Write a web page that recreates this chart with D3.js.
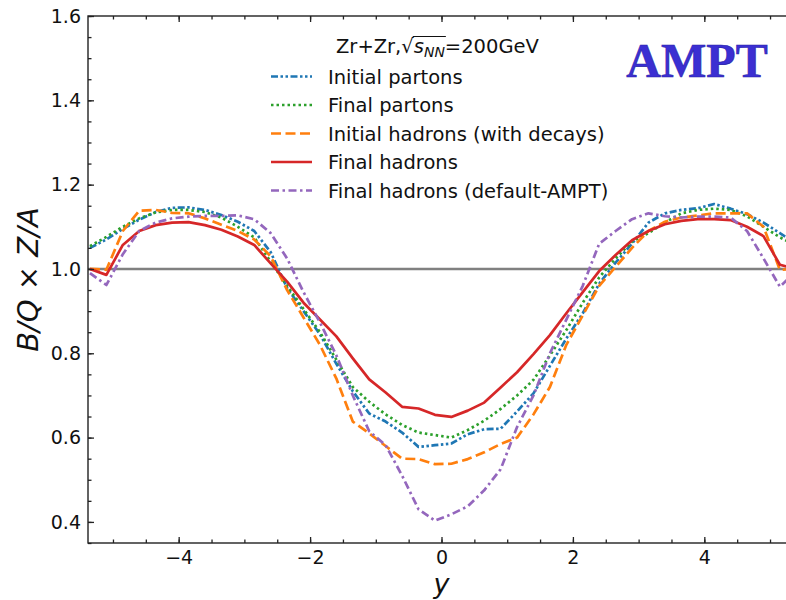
<!DOCTYPE html>
<html>
<head>
<meta charset="utf-8">
<script src="https://cdn.jsdelivr.net/npm/d3@7/dist/d3.min.js"></script>
<style>
  html, body { margin: 0; padding: 0; background: #fff; }
  svg { display: block; font-family: "DejaVu Sans", sans-serif; }
</style>
</head>
<body>
<svg id="chart" width="786" height="600"></svg>
<script>
// ---- data ----
const rapidity = [-5.35,-5.10,-4.85,-4.60,-4.35,-4.10,-3.85,-3.60,-3.35,-3.10,-2.85,-2.60,-2.35,-2.10,-1.85,-1.60,-1.35,-1.10,-0.85,-0.60,-0.35,-0.10,0.15,0.40,0.65,0.90,1.15,1.40,1.65,1.90,2.15,2.40,2.65,2.90,3.15,3.40,3.65,3.90,4.15,4.40,4.65,4.90,5.15,5.40];
const initialPartons = [1.05,1.07,1.095,1.117,1.135,1.145,1.146,1.14,1.128,1.112,1.09,1.04,0.955,0.90,0.845,0.775,0.71,0.657,0.638,0.612,0.578,0.582,0.586,0.608,0.62,0.621,0.662,0.705,0.77,0.835,0.895,0.965,1.015,1.06,1.11,1.132,1.14,1.144,1.154,1.143,1.13,1.11,1.085,1.06];
const finalPartons = [1.054,1.076,1.10,1.12,1.134,1.14,1.14,1.135,1.122,1.10,1.075,1.017,0.96,0.905,0.85,0.785,0.72,0.685,0.655,0.63,0.612,0.606,0.60,0.618,0.64,0.668,0.70,0.737,0.795,0.855,0.92,0.98,1.025,1.065,1.085,1.11,1.132,1.14,1.143,1.14,1.125,1.10,1.075,1.055];
const initialHadrons = [1.0,0.998,1.09,1.138,1.14,1.133,1.132,1.12,1.105,1.09,1.07,1.03,0.95,0.885,0.82,0.74,0.638,0.61,0.58,0.55,0.549,0.537,0.538,0.549,0.565,0.585,0.60,0.655,0.72,0.82,0.89,0.96,1.005,1.05,1.09,1.112,1.122,1.127,1.132,1.132,1.132,1.10,0.998,1.0];
const finalHadrons = [1.0,0.986,1.057,1.09,1.104,1.11,1.111,1.104,1.093,1.077,1.057,1.013,0.97,0.92,0.88,0.84,0.788,0.738,0.707,0.673,0.669,0.654,0.649,0.664,0.683,0.719,0.755,0.798,0.843,0.895,0.945,0.995,1.033,1.068,1.09,1.106,1.114,1.118,1.118,1.116,1.10,1.078,1.01,1.0];
const defaultAMPT = [0.99,0.962,1.035,1.09,1.11,1.12,1.124,1.126,1.126,1.127,1.118,1.085,1.025,0.945,0.873,0.795,0.70,0.615,0.582,0.51,0.43,0.403,0.418,0.437,0.475,0.525,0.625,0.70,0.80,0.88,0.96,1.06,1.09,1.118,1.132,1.125,1.122,1.124,1.124,1.122,1.09,1.025,0.958,0.995];

const seriesNames = ["Initial partons","Final partons","Initial hadrons (with decays)","Final hadrons","Final hadrons (default-AMPT)"];
const seriesValues = [initialPartons, finalPartons, initialHadrons, finalHadrons, defaultAMPT];
const seriesColors = ["#1f77b4","#2ca02c","#ff7f0e","#d62728","#9467bd"];
const seriesDash = ["7,2.5,2.5,2.5,2.5,2.5","2.5,3","10,4.5",null,"8,3.5,2.5,3.5"];

const xTicks = [-4,-2,0,2,4];
const yTicks = [0.4,0.6,0.8,1.0,1.2,1.4,1.6];
const refLine = 1.0;

// ---- layout ----
const L = 88, R = 795, T = 16, B = 543;
const svg = d3.select("#chart");
const x = d3.scaleLinear().domain([-5.38, 5.38]).range([L, R]);
const y = d3.scaleLinear().domain([0.35, 1.6]).range([B, T]);

svg.append("defs").append("clipPath").attr("id","clip")
  .append("rect").attr("x", L).attr("y", T).attr("width", R - L).attr("height", B - T);

const plot = svg.append("g").attr("clip-path","url(#clip)");

// reference line
plot.append("line")
  .attr("x1", x(-5.38)).attr("x2", x(5.38))
  .attr("y1", y(refLine)).attr("y2", y(refLine))
  .attr("stroke","#808080").attr("stroke-width",2.6);

const line = d3.line().x((d,i)=>x(rapidity[i])).y(d=>y(d));
seriesValues.forEach((vals,si)=>{
  plot.append("path").datum(vals)
    .attr("d", line)
    .attr("fill","none")
    .attr("stroke", seriesColors[si])
    .attr("stroke-width", 2.7)
    .attr("stroke-linejoin","round")
    .attr("stroke-dasharray", seriesDash[si]);
});

// ---- axes (inward ticks, mirrored) ----
const fontTick = 19;
const axB = d3.axisBottom(x).tickValues(xTicks).tickSize(-6).tickPadding(8)
  .tickFormat(d=>d3.format("d")(d).replace("-","\u2212"));
const axBminor = d3.axisBottom(x).tickValues(d3.range(-5,5.01,0.5)).tickSize(-3.5).tickFormat("");
const axT = d3.axisTop(x).tickValues(xTicks).tickSize(-6).tickFormat("");
const axTminor = d3.axisTop(x).tickValues(d3.range(-5,5.01,0.5)).tickSize(-3.5).tickFormat("");
const axLmajor = d3.axisLeft(y).tickValues(yTicks).tickSize(-6).tickPadding(7).tickFormat(d3.format(".1f"));
const axLminor = d3.axisLeft(y).tickValues(d3.range(0.35,1.601,0.05)).tickSize(-3.5).tickFormat("");
const axRmajor = d3.axisRight(y).tickValues(yTicks).tickSize(-6).tickFormat("");
const axRminor = d3.axisRight(y).tickValues(d3.range(0.35,1.601,0.05)).tickSize(-3.5).tickFormat("");

function style(g){
  g.selectAll(".domain").remove();
  g.selectAll("line").attr("stroke","#222").attr("stroke-width",1.3);
  g.selectAll("text").attr("fill","#111").style("font-size", fontTick+"px").style("font-family","DejaVu Sans");
}
svg.append("g").attr("transform",`translate(0,${B})`).call(axBminor).call(style);
svg.append("g").attr("transform",`translate(0,${B})`).call(axB).call(style);
svg.append("g").attr("transform",`translate(0,${T})`).call(axTminor).call(style);
svg.append("g").attr("transform",`translate(0,${T})`).call(axT).call(style);
svg.append("g").attr("transform",`translate(${L},0)`).call(axLminor).call(style);
svg.append("g").attr("transform",`translate(${L},0)`).call(axLmajor).call(style);
svg.append("g").attr("transform",`translate(${R},0)`).call(axRminor).call(style);
svg.append("g").attr("transform",`translate(${R},0)`).call(axRmajor).call(style);

// frame
svg.append("rect").attr("x",L).attr("y",T).attr("width",R-L).attr("height",B-T)
  .attr("fill","none").attr("stroke","#222").attr("stroke-width",1.4);

// axis labels
svg.append("text").attr("x", x(0)).attr("y", 593).attr("text-anchor","middle")
  .style("font-size","27px").style("font-style","italic").attr("fill","#111").text("y");

const yl = svg.append("text").attr("transform",`translate(38,${(T+B)/2}) rotate(-90)`)
  .attr("text-anchor","middle").style("font-size","29px").attr("fill","#111");
yl.append("tspan").style("font-style","italic").text("B/Q");
yl.append("tspan").text(" \u00d7 ");
yl.append("tspan").style("font-style","italic").text("Z/A");

// legend
const legFont = 19.5;
const title = svg.append("text").attr("x", 336).attr("y", 53).style("font-size", legFont+"px").attr("fill","#111");
title.append("tspan").text("Zr+Zr,");
title.append("tspan").text("\u221a");
title.append("tspan").style("font-style","italic").text("s");
title.append("tspan").style("font-style","italic").style("font-size","14px").attr("dy",4).text("NN");
title.append("tspan").attr("dy",-4).text("=200GeV");
const tnode = title.node();
const sqEnd = tnode.getEndPositionOfChar(6);
const nnEnd = tnode.getEndPositionOfChar(9);
svg.append("line").attr("x1", sqEnd.x - 1).attr("x2", nnEnd.x + 1)
  .attr("y1", 53 - 16.5).attr("y2", 53 - 16.5).attr("stroke","#111").attr("stroke-width",1.1);

const legRows = [76.5, 105, 133.5, 162, 190.5];
seriesNames.forEach((name,si)=>{
  const yy = legRows[si];
  svg.append("line").attr("x1",271).attr("x2",312).attr("y1",yy).attr("y2",yy)
    .attr("stroke",seriesColors[si]).attr("stroke-width",2.7)
    .attr("stroke-dasharray",seriesDash[si]);
  svg.append("text").attr("x",328).attr("y",yy+7).style("font-size",legFont+"px")
    .attr("fill","#111").text(name);
});

// AMPT label
svg.append("text").attr("x", 697).attr("y", 77).attr("text-anchor","middle")
  .style("font-family","'Liberation Serif', 'Times New Roman', serif")
  .style("font-weight","bold").style("font-size","48px")
  .attr("fill","#3b2fd2").attr("stroke","#2a1fa8").attr("stroke-width",0.6)
  .text("AMPT");
</script>
</body>
</html>
